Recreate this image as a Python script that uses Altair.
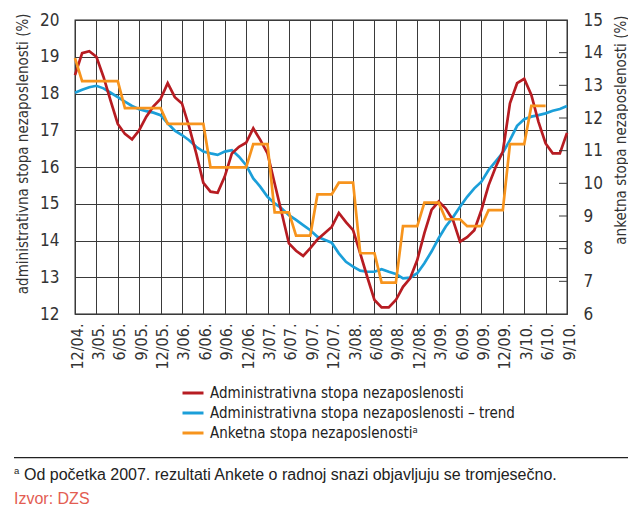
import altair as alt
import pandas as pd

# ---------------- data ----------------
mjeseci = [f"{(11 + k) % 12 + 1}/{4 + (11 + k) // 12:02d}" for k in range(70)]  # 12/04 ... 9/10
oznake = mjeseci[::3]

administrativna = [
    18.5, 19.1, 19.15, 19.0, 18.45, 17.8, 17.17, 16.9, 16.75, 17.0,
    17.37, 17.65, 17.85, 18.28, 17.9, 17.73, 17.1, 16.37, 15.57, 15.33,
    15.3, 15.74, 16.37, 16.55, 16.66, 17.05, 16.73, 16.37, 15.55, 14.74,
    13.92, 13.72, 13.58, 13.79, 14.03, 14.2, 14.37, 14.75, 14.5, 14.28,
    13.65, 13.0, 12.38, 12.18, 12.18, 12.38, 12.74, 12.97, 13.47, 14.2,
    14.83, 15.06, 14.87, 14.56, 13.97, 14.09, 14.28, 14.83, 15.5, 16.0,
    16.42, 17.73, 18.28, 18.4, 17.96, 17.23, 16.64, 16.37, 16.37, 16.93,
]
trend = [
    18.02, 18.1, 18.17, 18.21, 18.14, 18.02, 17.9, 17.78, 17.66, 17.57,
    17.52, 17.48, 17.41, 17.19, 16.99, 16.87, 16.73, 16.55, 16.42, 16.37,
    16.33, 16.42, 16.46, 16.28, 16.05, 15.69, 15.46, 15.19, 15.01, 14.87,
    14.69, 14.56, 14.42, 14.28, 14.1, 14.02, 13.94, 13.65, 13.42, 13.29,
    13.18, 13.15, 13.15, 13.22, 13.15, 13.09, 12.97, 12.99, 13.11, 13.38,
    13.7, 14.06, 14.38, 14.63, 14.92, 15.19, 15.42, 15.6, 15.92, 16.15,
    16.39, 16.73, 17.12, 17.3, 17.37, 17.41, 17.46, 17.53, 17.58, 17.66,
]
anketna = [
    13.83, 13.13, 13.13, 13.13, 13.13, 13.13, 13.13, 12.3, 12.3, 12.3,
    12.3, 12.3, 12.3, 11.82, 11.82, 11.82, 11.82, 11.82, 11.82, 10.49,
    10.49, 10.49, 10.49, 10.49, 10.49, 11.2, 11.2, 11.2, 9.11, 9.11,
    9.11, 8.4, 8.4, 8.4, 9.66, 9.66, 9.66, 10.02, 10.02, 10.02,
    7.86, 7.86, 7.86, 6.96, 6.96, 6.96, 8.69, 8.69, 8.69, 9.41,
    9.41, 9.41, 8.9, 8.9, 8.9, 8.69, 8.69, 8.69, 9.18, 9.18,
    9.18, 11.2, 11.2, 11.2, 12.37, 12.37, 12.37, None, None, None,
]
desne_crtice = [7, 8, 9, 10, 11, 12, 13, 14]

serije = [
    "Administrativna stopa nezaposlenosti",
    "Administrativna stopa nezaposlenosti – trend",
    "Anketna stopa nezaposlenostiᵃ",
]
boje = ["#b71c22", "#1b9fd9", "#f7941d"]

naslov_lijevo = "administrativna stopa nezaposlenosti (%)"
naslov_desno = "anketna stopa nezaposlenosti (%)"
fusnota = "Od početka 2007. rezultati Ankete o radnoj snazi objavljuju se tromjesečno."
izvor = "Izvor: DZS"

# ---------------- styling ----------------
NARROW = "Liberation Sans Narrow, DejaVu Sans Condensed, Liberation Sans, sans-serif"
REG = "Liberation Sans, Arial, sans-serif"
W, H = 492, 294
TXT = "#333333"
GRID = "#3a3a3a"


def okvir(vals, ime):
    return pd.DataFrame({"mjesec": mjeseci, "vrijednost": vals, "serija": ime}).dropna()


x_enc = alt.X(
    "mjesec:O",
    sort=mjeseci,
    scale=alt.Scale(type="point", domain=mjeseci, padding=0),
    axis=alt.Axis(
        values=oznake, labelExpr="datum.value + '.'", labelAngle=270,
        labelAlign="right", labelBaseline="middle", labelPadding=9, labelOffset=2,
        labelFont=NARROW, labelFontSize=16, labelColor=TXT, labelOverlap=False,
        ticks=False, tickSize=0, domain=False, grid=True, gridColor=GRID,
        gridWidth=1, gridOpacity=1, title=None,
    ),
)

color_enc = alt.Color(
    "serija:N",
    scale=alt.Scale(domain=serije, range=boje),
    legend=alt.Legend(
        title=None, orient="none", legendX=106, legendY=361, direction="vertical",
        symbolType="stroke", symbolSize=441, symbolStrokeWidth=3,
        labelFont=NARROW, labelFontSize=15, labelColor="#222", labelOffset=5,
        labelLimit=500, rowPadding=0, padding=0,
    ),
)

y_left = alt.Y(
    "vrijednost:Q",
    scale=alt.Scale(domain=[12, 20], nice=False, zero=False),
    axis=alt.Axis(
        orient="left", values=list(range(12, 21)), labelFont=NARROW, labelFontSize=17,
        labelColor=TXT, labelPadding=16, ticks=False, tickSize=0, domain=False,
        grid=True, gridColor=GRID, gridWidth=1, gridOpacity=1,
        title=naslov_lijevo, titleFont=NARROW, titleFontSize=15, titleFontWeight="normal",
        titleColor=TXT, titleAngle=270, titleAlign="right", titleBaseline="alphabetic",
        titleX=-48, titleY=-7,
    ),
)

y_right = alt.Y(
    "vrijednost:Q",
    scale=alt.Scale(domain=[6, 15], nice=False, zero=False),
    axis=alt.Axis(
        orient="right", values=list(range(6, 16)), labelFont=NARROW, labelFontSize=17,
        labelColor=TXT, labelPadding=16, ticks=False, tickSize=0, domain=False,
        grid=False,
        title=naslov_desno, titleFont=NARROW, titleFontSize=15, titleFontWeight="normal",
        titleColor=TXT, titleAngle=270, titleAlign="right", titleBaseline="alphabetic",
        titleX=58, titleY=-5,
    ),
)

linija_trend = alt.Chart(okvir(trend, serije[1])).mark_line(strokeWidth=2.7).encode(
    x=x_enc, y=y_left, color=color_enc)
linija_adm = alt.Chart(okvir(administrativna, serije[0])).mark_line(strokeWidth=2.7).encode(
    x=x_enc, y=y_left, color=color_enc)
lijevo = alt.layer(linija_trend, linija_adm)

linija_ank = alt.Chart(okvir(anketna, serije[2])).mark_line(strokeWidth=2.7).encode(
    x=x_enc, y=y_right, color=color_enc)
crtice = alt.Chart(pd.DataFrame({"vrijednost": desne_crtice})).mark_rule(
    color=GRID, strokeWidth=1).encode(
    y=y_right, x=alt.value(W - 8), x2=alt.value(W))
desno = alt.layer(linija_ank, crtice)

jedan = pd.DataFrame({"t": [""]})
gornja_crta = alt.Chart(jedan).mark_rule(color="#8a8a8a", strokeWidth=1.5).encode(
    x=alt.value(-61), x2=alt.value(553), y=alt.value(-15.5))
donja_crta = alt.Chart(jedan).mark_rule(color="#222222", strokeWidth=1.2).encode(
    x=alt.value(-61), x2=alt.value(553), y=alt.value(437.7))
sup = alt.Chart(pd.DataFrame({"t": ["a"]})).mark_text(
    font=REG, fontSize=9.5, align="left", baseline="alphabetic", color="#222").encode(
    text="t:N", x=alt.value(-61), y=alt.value(453.5))
fus = alt.Chart(pd.DataFrame({"t": [fusnota]})).mark_text(
    font=REG, fontSize=16, align="left", baseline="alphabetic", color="#222").encode(
    text="t:N", x=alt.value(-51), y=alt.value(460))
izv = alt.Chart(pd.DataFrame({"t": [izvor]})).mark_text(
    font=REG, fontSize=16, align="left", baseline="alphabetic", color="#e35d52").encode(
    text="t:N", x=alt.value(-61), y=alt.value(484))

chart = alt.layer(
    lijevo, desno, gornja_crta, donja_crta, sup, fus, izv
).resolve_scale(y="independent").properties(
    width=W, height=H,
    autosize=alt.AutoSizeParams(type="none"),
    padding={"left": 67, "top": 12, "right": 61, "bottom": 200},
    background="white",
).configure_view(stroke="#222222", strokeWidth=1.3)

chart.save("out.html", embed_options={"renderer": "svg", "actions": False})
